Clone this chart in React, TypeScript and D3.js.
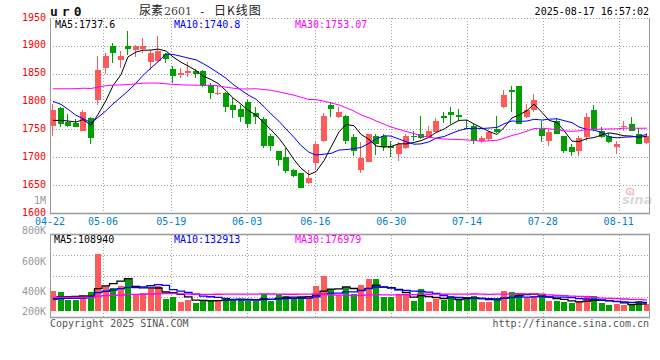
import React from 'react';
import * as d3 from 'd3';

const dates = [
  '04-22','04-23','04-24','04-25','04-28','04-29','04-30',
  '05-06','05-07','05-08','05-09','05-12','05-13','05-14','05-15','05-16','05-19','05-20','05-21','05-22','05-23','05-26','05-27','05-28','05-29','05-30',
  '06-03','06-04','06-05','06-06','06-09','06-10','06-11','06-12','06-13','06-16','06-17','06-18','06-19','06-20','06-23','06-24','06-25','06-26','06-27','06-30',
  '07-01','07-02','07-03','07-04','07-07','07-08','07-09','07-10','07-11','07-14','07-15','07-16','07-17','07-18','07-21','07-22','07-23','07-24','07-25','07-28','07-29','07-30','07-31',
  '08-01','08-04','08-05','08-06','08-07','08-08','08-11','08-12','08-13','08-14','08-15',
];

const openP = [
  1756,1789,1763,1761,1748,1771,1803,1861,1900,1874,1899,1892,1895,1871,1873,1885,1859,1848,1852,1854,
  1854,1830,1814,1815,1794,1787,1800,1779,1769,1738,1711,1700,1678,1671,1653,1689,1729,1794,1772,1775,
  1736,1678,1691,1739,1738,1721,1706,1717,1739,1741,1736,1745,1775,1781,1776,1752,1757,1730,1732,1750,
  1790,1821,1828,1772,1785,1751,1729,1765,1739,1718,1712,1736,1785,1747,1739,1718,1754,1759,1741,1726,
];
const highP = [
  1796,1790,1778,1769,1785,1772,1882,1887,1905,1890,1927,1902,1914,1893,1917,1887,1864,1861,1871,1858,
  1857,1833,1828,1817,1806,1794,1802,1790,1772,1741,1712,1717,1679,1672,1678,1727,1779,1799,1791,1776,
  1741,1727,1742,1742,1741,1729,1727,1741,1747,1775,1756,1770,1782,1791,1787,1767,1759,1739,1747,1775,
  1820,1828,1828,1796,1814,1765,1750,1770,1739,1723,1739,1779,1793,1754,1744,1730,1766,1772,1753,1744,
];
const lowP = [
  1739,1755,1754,1754,1748,1723,1793,1849,1869,1860,1884,1880,1887,1857,1871,1870,1834,1842,1845,1842,
  1826,1805,1811,1781,1770,1763,1752,1760,1717,1712,1684,1672,1665,1644,1652,1678,1728,1772,1771,1723,
  1703,1671,1691,1705,1711,1700,1693,1715,1730,1733,1736,1745,1762,1759,1765,1750,1723,1726,1730,1744,
  1788,1781,1759,1770,1782,1727,1721,1741,1708,1703,1703,1729,1748,1735,1726,1706,1748,1747,1724,1723,
];
const closeP = [
  1784,1760,1757,1755,1782,1734,1857,1882,1887,1882,1894,1899,1899,1888,1891,1877,1846,1851,1855,1849,
  1828,1815,1816,1790,1784,1772,1760,1773,1721,1720,1696,1676,1666,1644,1662,1723,1775,1787,1781,1729,
  1711,1698,1741,1723,1718,1717,1723,1739,1736,1734,1748,1765,1770,1776,1772,1751,1730,1734,1745,1745,
  1812,1817,1760,1785,1803,1738,1745,1741,1712,1709,1734,1772,1750,1736,1727,1723,1757,1747,1724,1739,
];
const volume = [
  306000,291000,173000,173000,203000,291000,872000,383000,352000,383000,490000,265000,275000,352000,378000,184000,219000,138000,168000,127000,
  168000,168000,168000,199000,184000,184000,148000,148000,256000,148000,256000,225000,179000,225000,210000,378000,531000,332000,240000,363000,
  256000,393000,485000,485000,210000,210000,256000,240000,148000,332000,133000,179000,164000,225000,179000,194000,225000,133000,133000,194000,
  301000,286000,271000,199000,230000,225000,148000,148000,133000,118000,148000,210000,225000,118000,87000,103000,87000,103000,148000,103000,
];
// sessions before 04-22 (off-screen), estimated so the averages start where the reference lines start
const priorClose = [
  1760,1757,1749,1758,1749,1782,1807,1857,1867,1879,1854,1869,1879,1894,1914,1876,1875,1867,1858,1834,
  1815,1845,1862,1840,1811,1760,1762,1765,1760,
];
const priorVolume = [
  260000,230000,245000,210000,280000,225000,200000,240000,215000,190000,235000,250000,205000,220000,195000,230000,210000,240000,200000,215000,
  180000,150000,175000,160000,155000,170000,165000,160000,170000,
];

const tickLabels = ['04-22','05-06','05-19','06-03','06-16','06-30','07-14','07-28','08-11'];
const priceTicks = [1600, 1650, 1700, 1750, 1800, 1850, 1900, 1950];
const volTickLabels = ['1M', '800K', '600K', '400K', '200K'];
const volTickValues = [1000000, 800000, 600000, 400000, 200000];
const maPeriods = [5, 10, 30];
const maColors = ['#000000', '#0000ff', '#ff00ff'];
const priceLegend = ['MA5:1737.6', 'MA10:1740.8', 'MA30:1753.07'];
const volLegend = ['MA5:108940', 'MA10:132913', 'MA30:176979'];

const RED = '#ff5a5a';
const GREEN = '#00a000';
const GRID = '#a0a0a0';
const MONO = '"DejaVu Sans Mono", "Liberation Mono", monospace';

function movingAvg(values: number[], prior: number[], period: number): number[] {
  const all = prior.concat(values);
  const off = prior.length;
  return values.map((_, i) => d3.mean(all.slice(off + i - period + 1, off + i + 1)) as number);
}

export default function App() {
  const n = dates.length;
  const x = d3.scaleBand<number>().domain(d3.range(n)).range([50, 650]).paddingInner(0.2).paddingOuter(0);
  const gx = d3.scaleLinear().domain([0, n - 1]).range([50, 649]);
  const y = d3.scaleLinear().domain([1600, 1950]).range([213, 18]);
  const yv = d3.scaleLinear().domain([0, 1178000]).range([311, 234]);
  const volLabelY = d3.scaleLinear().domain([1000000, 400000]).range([204.3, 294.7]);

  const bw = 6;
  const cx = (i: number) => Math.round(x(i) as number);

  const priceMA = maPeriods.map((p) => movingAvg(closeP, priorClose, p));
  const volMA = maPeriods.map((p) => movingAvg(volume, priorVolume, p));

  const priceLine = (vals: number[]) =>
    d3.line<number>().x((_, i) => cx(i) + 3).y((v) => y(v))(vals) as string;
  const volLine = (vals: number[]) =>
    d3.line<number>().x((_, i) => cx(i) + 3).y((v) => yv(v)).curve(d3.curveStep)(vals) as string;

  const tickIdx = tickLabels.map((t) => dates.indexOf(t));
  const volGridYs = d3.range(1, 4).map((k) => 234 + (317.5 - 234) * k / 4);

  return (
    <svg width={660} height={360} style={{ position: 'absolute', left: 0, top: 0, background: '#fff' }}
      fontFamily={MONO}>
      <rect x={0} y={0} width={660} height={360} fill="#fff" />

      {/* header */}
      <text x={50} y={16} fontSize={13} fontWeight="bold" letterSpacing={4} fill="#111">ur0</text>
      <text y={15} fontSize={12} fill="#222" fontFamily='"Noto Sans CJK SC", sans-serif'>
        <tspan x={139}>尿素</tspan>
        <tspan x={164} fontSize={11} fill="#444" fontFamily='"DejaVu Serif", serif'>2601</tspan>
        <tspan x={199} fontFamily={MONO} fontSize={11}>-</tspan>
        <tspan x={214} letterSpacing={1}>日K线图</tspan>
      </text>
      <text x={649} y={15} fontSize={10} textAnchor="end" fill="#000">2025-08-17 16:57:02</text>

      {/* main panel grid */}
      {priceTicks.filter((p) => p > 1600).map((p) => (
        <line key={p} x1={50} x2={649} y1={Math.round(y(p)) + 0.5} y2={Math.round(y(p)) + 0.5}
          stroke={GRID} strokeDasharray="1,2" />
      ))}
      {tickIdx.slice(1).map((i) => (
        <line key={'vg' + i} x1={Math.round(gx(i)) + 0.5} x2={Math.round(gx(i)) + 0.5} y1={18} y2={213}
          stroke={GRID} strokeDasharray="1,2" />
      ))}

      {/* price labels */}
      {priceTicks.map((p) => (
        <text key={'pl' + p} x={46} y={y(p) + 2.5} fontSize={10} textAnchor="end" fill="#ff0000">{p}</text>
      ))}
      <text x={46} y={volLabelY(volTickValues[0])} fontSize={10} textAnchor="end" fill="#999">{volTickLabels[0]}</text>

      {/* watermark */}
      <g opacity={0.9}>
        <ellipse cx={630} cy={191.5} rx={3.5} ry={3} fill="none" stroke="#f2b8b8" strokeWidth={1.5} />
        <circle cx={630} cy={192} r={1.2} fill="#f2b8b8" />
        <text x={622} y={204} fontSize={13} fontStyle="italic" fontWeight="bold" fill="#d6d6d6"
          fontFamily='"DejaVu Sans", sans-serif'>sina</text>
      </g>

      {/* candles */}
      {closeP.map((c, i) => {
        const o = openP[i];
        const up = c >= o;
        const col = up ? RED : GREEN;
        const top = Math.round(y(Math.max(o, c)));
        const bot = Math.round(y(Math.min(o, c)));
        const hy = Math.round(y(highP[i]));
        const ly = Math.round(y(lowP[i]));
        return (
          <g key={'c' + i} shapeRendering="crispEdges">
            <rect x={cx(i) + 2} y={hy} width={1} height={Math.max(1, ly - hy)} fill={col} />
            <rect x={cx(i)} y={top} width={bw} height={Math.max(1, bot - top)} fill={col} />
          </g>
        );
      })}

      {/* price MAs */}
      {priceMA.map((vals, k) => (
        <path key={'pm' + k} d={priceLine(vals)} fill="none" stroke={maColors[k]} strokeWidth={1} />
      ))}

      {/* main frame */}
      <line x1={50.5} x2={50.5} y1={18} y2={214} stroke="#999" />
      <line x1={649.5} x2={649.5} y1={18} y2={214} stroke="#999" />
      <line x1={50} x2={650} y1={213.5} y2={213.5} stroke="#999" strokeWidth={1.5} />

      {/* legends */}
      {priceLegend.map((t, k) => (
        <text key={'lg' + k} x={[55, 174, 295][k]} y={28} fontSize={10} fill={maColors[k]}>{t}</text>
      ))}

      {/* date labels */}
      {tickIdx.map((i, k) => (
        <text key={'dl' + k} x={gx(i)} y={225} fontSize={10} textAnchor="middle" fill="#0080d0">{tickLabels[k]}</text>
      ))}

      {/* volume labels */}
      {volTickValues.slice(1).map((v, k) => (
        <text key={'vl' + k} x={46} y={Math.min(volLabelY(v), 314.7)} fontSize={10} textAnchor="end" fill="#999">
          {volTickLabels[k + 1]}
        </text>
      ))}

      {/* volume grid */}
      {volGridYs.map((gy, k) => (
        <line key={'vh' + k} x1={50} x2={649} y1={Math.round(gy) + 0.5} y2={Math.round(gy) + 0.5}
          stroke={GRID} strokeDasharray="1,2" />
      ))}
      {tickIdx.slice(1).map((i) => (
        <line key={'vv' + i} x1={Math.round(gx(i)) + 0.5} x2={Math.round(gx(i)) + 0.5} y1={235} y2={317}
          stroke={GRID} strokeDasharray="1,2" />
      ))}

      {/* volume bars */}
      {volume.map((v, i) => {
        const up = closeP[i] >= openP[i];
        const top = Math.round(yv(v));
        return (
          <rect key={'v' + i} x={cx(i)} y={top} width={bw} height={Math.round(yv(0)) - top}
            fill={up ? RED : GREEN} shapeRendering="crispEdges" />
        );
      })}

      {/* volume MAs */}
      {volMA.map((vals, k) => (
        <path key={'vm' + k} d={volLine(vals)} fill="none" stroke={maColors[k]} strokeWidth={1.3} />
      ))}

      {/* volume frame */}
      <line x1={50} x2={650} y1={234.5} y2={234.5} stroke="#999" strokeWidth={1.5} />
      <line x1={50.5} x2={50.5} y1={234} y2={318} stroke="#999" />
      <line x1={649.5} x2={649.5} y1={234} y2={318} stroke="#999" />
      <line x1={50} x2={650} y1={317.5} y2={317.5} stroke="#999" strokeWidth={1.5} />

      {volLegend.map((t, k) => (
        <text key={'vlg' + k} x={[54, 174, 295][k]} y={242.5} fontSize={10} fill={maColors[k]}>{t}</text>
      ))}

      {/* footer */}
      <text x={50} y={327} fontSize={10} fill="#555">Copyright 2025 SINA.COM</text>
      <text x={649} y={327} fontSize={10} textAnchor="end" fill="#555">http://finance.sina.com.cn</text>
    </svg>
  );
}
